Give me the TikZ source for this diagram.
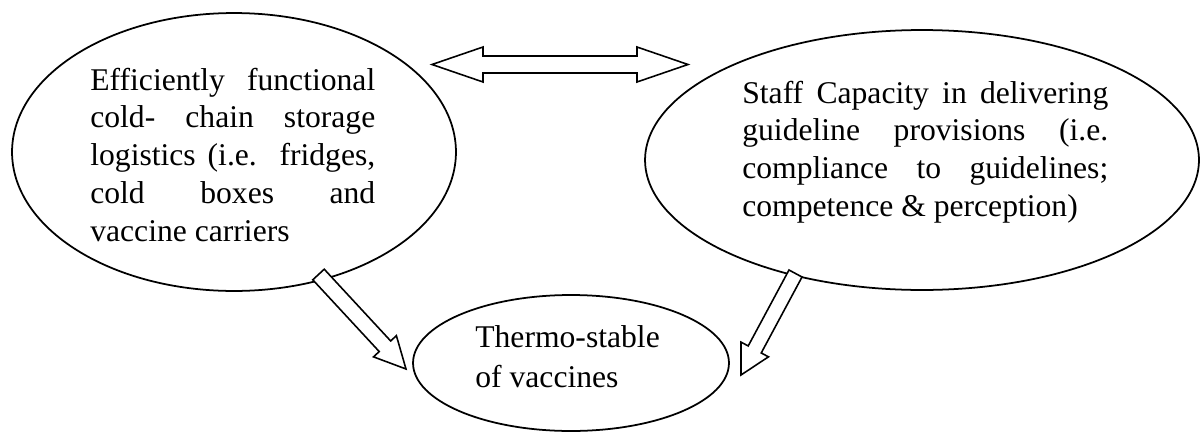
\documentclass[tikz,border=0pt]{standalone}
\usepackage{fontspec}
\setmainfont{Liberation Serif}
\usetikzlibrary{shapes.geometric,calc}
% #1 tail, #2 tip, #3 shaft half width, #4 head half width, #5 head length, #6 name for head base
\newcommand\blockarrow[6]{%
  \coordinate (#6) at ($(#2)!#5!(#1)$);
  \draw[blockarr] ($(#1)!#3!90:(#2)$) -- ($(#6)!#3!90:(#2)$) -- ($(#6)!#4!90:(#2)$) -- (#2)
    -- ($(#6)!#4!-90:(#2)$) -- ($(#6)!#3!-90:(#2)$) -- ($(#1)!#3!-90:(#2)$) -- cycle;}
\begin{document}
\begin{tikzpicture}[x=0.02cm,y=-0.02cm,
  ell/.style={draw, ellipse, line width=1pt, inner sep=0pt},
  blockarr/.style={draw, fill=white, line width=0.9pt, line join=miter},
  txt/.style={anchor=base west, inner sep=0pt, font=\fontsize{18pt}{21.6pt}\selectfont},
  txtb/.style={anchor=base west, inner sep=0pt, font=\fontsize{18pt}{22.8pt}\selectfont}]
\useasboundingbox (0,0) rectangle (1200,433);

% ellipses
\node[ell, minimum width=8.88cm, minimum height=5.56cm] (L) at (234,152) {};
\node[ell, minimum width=11.08cm, minimum height=5.2cm] (R) at (922,160) {};
\node[ell, minimum width=6.32cm, minimum height=2.72cm] (B) at (571,363) {};

% texts
\node[txt] (lt) at (90,90) {\parbox[t]{5.7cm}{%
  \makebox[5.7cm][s]{Efficiently functional}\\
  \makebox[5.7cm][s]{cold- chain storage}\\
  \makebox[5.7cm][s]{logistics (i.e. fridges,}\\
  \makebox[5.7cm][s]{cold boxes and}\\
  vaccine carriers}};
\node[txt] (rt) at (742,103) {\parbox[t]{7.32cm}{%
  \makebox[7.32cm][s]{Staff Capacity in delivering}\\
  \makebox[7.32cm][s]{guideline provisions (i.e.}\\
  \makebox[7.32cm][s]{compliance to guidelines;}\\
  competence \& perception)}};
\node[txtb] (bt) at (475,347) {\parbox[t]{5cm}{Thermo-stable\\of vaccines}};

% connector end points
\coordinate (dL) at (432,64.5);
\coordinate (dR) at (688,64.5);
\coordinate (t1) at (318.5,274.5);
\coordinate (p1) at (406,369);
\coordinate (t2) at (795.5,273.5);
\coordinate (p2) at (741,375);

% double arrow between L and R
\coordinate (hL) at ($(dL)!1.02cm!(dR)$);
\coordinate (hR) at ($(dR)!1.02cm!(dL)$);
\draw[blockarr] (dL) -- ($(hL)!0.35cm!90:(dR)$) -- ($(hL)!0.17cm!90:(dR)$)
  -- ($(hR)!0.17cm!-90:(dL)$) -- ($(hR)!0.35cm!-90:(dL)$) -- (dR)
  -- ($(hR)!0.35cm!90:(dL)$) -- ($(hR)!0.17cm!90:(dL)$)
  -- ($(hL)!0.17cm!-90:(dR)$) -- ($(hL)!0.35cm!-90:(dR)$) -- cycle;

% arrows into B
\blockarrow{t1}{p1}{0.156cm}{0.312cm}{0.62cm}{h1}
\blockarrow{t2}{p2}{0.148cm}{0.312cm}{0.58cm}{h2}
\end{tikzpicture}
\end{document}
